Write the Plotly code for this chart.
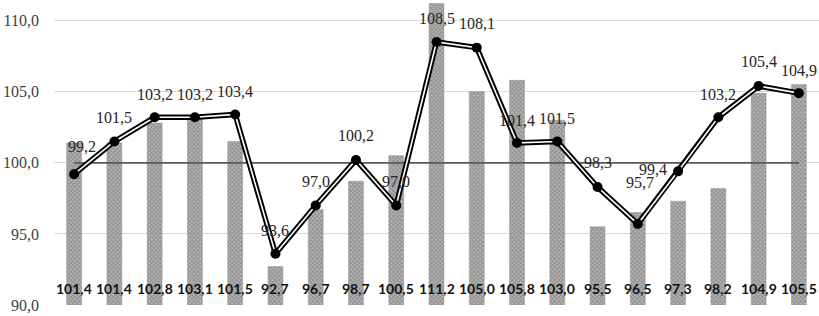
import plotly.graph_objects as go

categories = [str(i) for i in range(1, 20)]
bar_values = [101.4, 101.4, 102.8, 103.1, 101.5, 92.7, 96.7, 98.7, 100.5, 111.2,
              105.0, 105.8, 103.0, 95.5, 96.5, 97.3, 98.2, 104.9, 105.5]
line_values = [99.2, 101.5, 103.2, 103.2, 103.4, 93.6, 97.0, 100.2, 97.0, 108.5,
               108.1, 101.4, 101.5, 98.3, 95.7, 99.4, 103.2, 105.4, 104.9]
base_values = [100.0] * len(categories)
y_ticks = [90, 95, 100, 105, 110]

# label offsets (pixels) for line labels
line_label_xshift = [8, 0, 0, 0, 0, 0, 0, 0, 0, 0, 0, 0, 0, 0, 2, -25, 0, 0, 0]
line_label_yshift = [28, 24, 23, 23, 23, 23, 24, 24, 24, 23, 24, 22, 23, 24, 41, 2, 23, 25, 23]

SERIF = "Liberation Serif"


def fmt(v):
    return f"{v:.1f}".replace(".", ",")


fig = go.Figure()
fig.add_trace(go.Bar(
    x=categories, y=bar_values,
    marker=dict(color="#b4b4b4",
                line=dict(color="#909090", width=0.5),
                pattern=dict(shape="x", size=3, solidity=0.5,
                             fgcolor="#5a5a5a", bgcolor="#b8b8b8")),
    hoverinfo="skip", showlegend=False,
))
fig.add_trace(go.Scatter(
    x=categories, y=base_values, mode="lines",
    line=dict(color="#595959", width=1.8), showlegend=False, hoverinfo="skip",
))
fig.add_trace(go.Scatter(
    x=categories, y=line_values, mode="lines",
    line=dict(color="#000000", width=5.5), showlegend=False, hoverinfo="skip",
))
fig.add_trace(go.Scatter(
    x=categories, y=line_values, mode="lines+markers",
    line=dict(color="#ffffff", width=1.6),
    marker=dict(color="#000000", size=10),
    showlegend=False, hoverinfo="skip",
))

annotations = []
for i, (v, xs, ys) in enumerate(zip(line_values, line_label_xshift, line_label_yshift)):
    annotations.append(dict(
        x=i, y=v, xref="x", yref="y", text=fmt(v), showarrow=False,
        xshift=xs, yshift=ys, xanchor="center", yanchor="middle",
        font=dict(family=SERIF, size=16, color="#262626"),
    ))
for i, v in enumerate(bar_values):
    annotations.append(dict(
        x=i, y=0, xref="x", yref="paper", text=f"<b>{fmt(v)}</b>", showarrow=False,
        yshift=17, xanchor="center", yanchor="middle",
        font=dict(family="Lato", size=14, color="#111111"),
    ))

fig.update_layout(
    width=819, height=316,
    margin=dict(l=54, r=0, t=0, b=11),
    paper_bgcolor="white", plot_bgcolor="white",
    separators=",.",
    bargap=0.63,
    annotations=annotations,
    xaxis=dict(type="category", showticklabels=False, showgrid=False, zeroline=False,
               showline=False, ticks="", range=[-0.5, 18.5]),
    yaxis=dict(range=[90, 111.45], tickvals=y_ticks, tickformat=".1f",
               showgrid=True, gridcolor="#d9d9d9", gridwidth=1,
               zeroline=False, showline=False, ticks="",
               ticklabelstandoff=14,
               tickfont=dict(family=SERIF, size=16, color="#404040")),
)

fig.write_html("out.html", config={"displayModeBar": False},
               post_script="document.body.style.margin='0';document.body.style.overflow='hidden';")
